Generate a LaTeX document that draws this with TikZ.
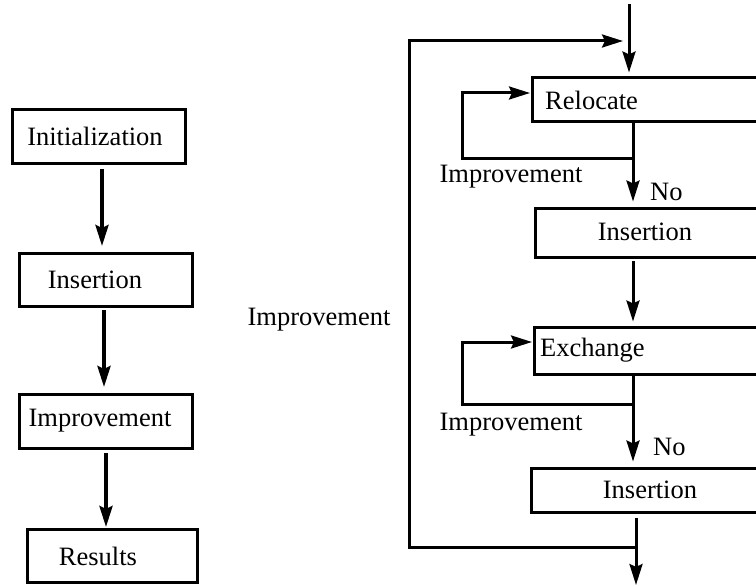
\documentclass[tikz,border=0pt]{standalone}
\usepackage{fontspec}
\setmainfont{Liberation Serif}
\usetikzlibrary{arrows.meta}
\begin{document}
\begin{tikzpicture}[x=1pt,y=-1pt,
  >={Stealth[length=21pt,width=13pt,inset=3pt]},
  every node/.style={font=\fontsize{26.5pt}{30pt}\selectfont, inner sep=0pt},
  lbox/.style={draw, line width=3.6pt, minimum width=173pt},
  rbox/.style={draw, line width=3pt, minimum width=260pt, anchor=west},
  lconn/.style={line width=3.6pt},
  rconn/.style={line width=3pt}]
\useasboundingbox (0,0) rectangle (756,586);
\clip (0,0) rectangle (756,586);
% left column
\node[lbox, minimum height=54pt] (init) at (99,136.5) {};
\node (tinit) at (95,136) {Initialization};
\node[lbox, minimum height=53pt] (ins1) at (106,280) {};
\node (tins1) at (95,280) {Insertion};
\node[lbox, minimum height=54pt] (imp) at (106,421.5) {};
\node (timp) at (100,421) {Improvement};
\node[lbox, minimum height=53pt, minimum width=170pt] (res) at (112.5,556) {};
\node (tres) at (98,556) {Results};
\draw[lconn,->,shorten >=6pt,shorten <=4pt] (102,165) coordinate (a1) -- (102,252) coordinate (b1);
\draw[lconn,->,shorten >=6pt,shorten <=2pt] (104,308) coordinate (a2) -- (104,393) coordinate (b2);
\draw[lconn,->,shorten >=1pt,shorten <=3pt] (106,450) coordinate (a3) -- (106,528) coordinate (b3);
% middle label
\node (bigimp) at (319,320) {Improvement};
% right column boxes
\node[rbox, minimum height=44pt] (reloc) at (531,100) {};
\node[anchor=west] (treloc) at (545,100) {Relocate};
\node[rbox, minimum height=49pt] (ins2) at (534,232.5) {};
\node (tins2) at (645,232) {Insertion};
\node[rbox, minimum height=47pt] (exch) at (533,350.5) {};
\node[anchor=west] (texch) at (540,350) {Exchange};
\node[rbox, minimum height=44pt] (ins3) at (530,490) {};
\node (tins3) at (650,490) {Insertion};
% coordinates
\coordinate (topin) at (629,4);
\coordinate (oTR) at (623,41);
\coordinate (oTL) at (409,41);
\coordinate (oBL) at (409,547);
\coordinate (oBR) at (636,547);
\coordinate (r1) at (633,122);
\coordinate (j1) at (633,158);
\coordinate (l1b) at (462,158);
\coordinate (l1t) at (462,93);
\coordinate (i2) at (633,257);
\coordinate (e1) at (633,374);
\coordinate (j2) at (633,404);
\coordinate (l2b) at (462,404);
\coordinate (l2t) at (462,342);
\coordinate (i3) at (636,512);
\coordinate (out) at (636,586);
% right connectors
\draw[rconn,->,shorten >=4pt] (topin) -- (topin |- reloc.north);
\draw[rconn,->] (oBR) -- (oBL) -- (oTL) -- (oTR);
\draw[rconn,->,shorten >=5pt] (r1) -- (r1 |- ins2.north);
\draw[rconn,->,shorten >=1pt] (j1) -- (l1b) -- (l1t) -- (reloc.west |- l1t);
\draw[rconn,->,shorten >=4pt,shorten <=4pt] (i2) -- (i2 |- exch.north);
\draw[rconn,->,shorten >=5pt] (e1) -- (e1 |- ins3.north);
\draw[rconn,->,shorten >=1pt] (j2) -- (l2b) -- (l2t) -- (exch.west |- l2t);
\draw[rconn,->,shorten <=6pt,shorten >=1pt] (i3) -- (out);
% labels
\node (limp1) at (511,177) {Improvement};
\node[anchor=west] (no1) at (650,192) {No};
\node (limp2) at (511,425) {Improvement};
\node[anchor=west] (no2) at (653,447) {No};
\end{tikzpicture}
\end{document}
